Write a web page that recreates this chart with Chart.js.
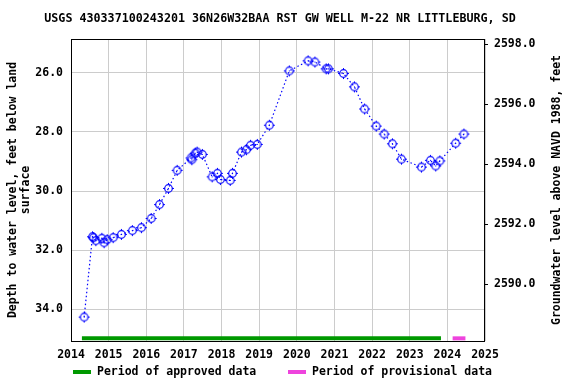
<!DOCTYPE html>
<html>
<head>
<meta charset="utf-8">
<script src="https://cdn.jsdelivr.net/npm/chart.js@4"></script>
<style>
  html, body { margin: 0; padding: 0; background: #fff; }
  #wrap { width: 576px; height: 384px; }
</style>
</head>
<body>
<div id="wrap"><canvas id="chart" width="576" height="384"></canvas></div>
<script>
// measurement dates (decimal years) and depth below land surface, feet
const years = [
  2014.35, 2014.57, 2014.60, 2014.66, 2014.82, 2014.88, 2014.96, 2015.12, 2015.34, 2015.63,
  2015.87, 2016.13, 2016.35, 2016.59, 2016.82, 2017.19, 2017.21, 2017.30, 2017.35, 2017.49,
  2017.75, 2017.89, 2017.97, 2018.23, 2018.29, 2018.53, 2018.66, 2018.77, 2018.95, 2019.27,
  2019.80, 2020.30, 2020.48, 2020.78, 2020.84, 2021.24, 2021.53, 2021.80, 2022.11, 2022.32,
  2022.54, 2022.78, 2023.31, 2023.55, 2023.69, 2023.80, 2024.22, 2024.44
];
const depths = [
  34.27, 31.55, 31.58, 31.68, 31.60, 31.75, 31.65, 31.58, 31.47, 31.34,
  31.24, 30.93, 30.46, 29.91, 29.30, 28.88, 28.94, 28.72, 28.68, 28.76,
  29.52, 29.40, 29.61, 29.64, 29.40, 28.68, 28.60, 28.45, 28.42, 27.77,
  25.93, 25.59, 25.63, 25.86, 25.86, 26.02, 26.47, 27.22, 27.80, 28.07,
  28.40, 28.92, 29.19, 28.96, 29.15, 28.98, 28.38, 28.07
];
const approvedPeriod = [2014.29, 2023.83];
const provisionalPeriod = [2024.14, 2024.48];
const periodDepth = 34.99;

const xTicks = [2014, 2015, 2016, 2017, 2018, 2019, 2020, 2021, 2022, 2023, 2024, 2025];
const depthTicks = [26, 28, 30, 32, 34];
const levelTicks = [2590, 2592, 2594, 2596, 2598];
const depthRange = [24.85, 35.08];
const levelRange = [2588.1, 2598.18];

const FONT = "'DejaVu Sans Mono', monospace";
const BLUE = "#0000ff";

// marker like the USGS one: circle, centre dot, little ticks
function makeMarker() {
  const c = document.createElement("canvas");
  c.width = 13; c.height = 13;
  const g = c.getContext("2d");
  g.strokeStyle = BLUE;
  g.lineWidth = 1.2;
  g.beginPath();
  g.arc(6.5, 6.5, 3.8, 0, Math.PI * 2);
  g.stroke();
  g.fillStyle = BLUE;
  g.fillRect(6, 6, 1, 1);
  g.fillRect(6, 1, 1, 2);
  g.fillRect(6, 10, 1, 2);
  g.fillRect(1, 6, 2, 1);
  g.fillRect(10, 6, 2, 1);
  return c;
}

const textPlugin = {
  id: "usgsText",
  afterDraw(chart) {
    const ctx = chart.ctx;
    const a = chart.chartArea;
    ctx.save();
    ctx.strokeStyle = "#000";
    ctx.lineWidth = 1;
    ctx.strokeRect(a.left + 0.5, a.top + 0.5, a.right - a.left - 1, a.bottom - a.top);

    ctx.fillStyle = "#000";
    ctx.textBaseline = "middle";
    ctx.textAlign = "center";
    ctx.font = "bold 11.7px " + FONT;
    ctx.fillText("USGS 430337100243201 36N26W32BAA RST GW WELL M-22 NR LITTLEBURG, SD", 280, 19);

    ctx.font = "bold 11.5px " + FONT;
    ctx.save();
    ctx.translate(13, 190);
    ctx.rotate(-Math.PI / 2);
    ctx.fillText("Depth to water level, feet below land", 0, 0);
    ctx.fillText("surface", 0, 13);
    ctx.restore();
    ctx.save();
    ctx.translate(557, 190);
    ctx.rotate(-Math.PI / 2);
    ctx.fillText("Groundwater level above NAVD 1988, feet", 0, 0);
    ctx.restore();

    // legend
    ctx.textAlign = "left";
    ctx.lineWidth = 4;
    ctx.strokeStyle = "#009900";
    ctx.beginPath(); ctx.moveTo(73, 372); ctx.lineTo(91, 372); ctx.stroke();
    ctx.fillText("Period of approved data", 97, 372);
    ctx.strokeStyle = "#ee44dd";
    ctx.beginPath(); ctx.moveTo(288, 372); ctx.lineTo(306, 372); ctx.stroke();
    ctx.fillText("Period of provisional data", 312, 372);
    ctx.restore();
  }
};

const tickFont = { family: FONT, size: 11.5, weight: "bold" };

new Chart(document.getElementById("chart"), {
  type: "line",
  data: {
    datasets: [
      {
        data: years.map((x, i) => ({ x: x, y: depths[i] })),
        borderColor: BLUE,
        borderWidth: 1.2,
        borderDash: [1.5, 2.5],
        pointStyle: makeMarker(),
        pointRadius: 4,
        tension: 0,
        yAxisID: "y"
      },
      {
        data: approvedPeriod.map(x => ({ x: x, y: periodDepth })),
        borderColor: "#009900",
        borderWidth: 4,
        borderCapStyle: "butt",
        pointRadius: 0,
        yAxisID: "y"
      },
      {
        data: provisionalPeriod.map(x => ({ x: x, y: periodDepth })),
        borderColor: "#ee44dd",
        borderWidth: 4,
        borderCapStyle: "butt",
        pointRadius: 0,
        yAxisID: "y"
      }
    ]
  },
  options: {
    responsive: false,
    animation: false,
    layout: { padding: { top: 39 } },
    plugins: { legend: { display: false }, tooltip: { enabled: false } },
    scales: {
      x: {
        type: "linear",
        min: 2014,
        max: 2025,
        afterBuildTicks: s => { s.ticks = xTicks.map(v => ({ value: v })); },
        afterFit: s => { s.height = 43; },
        ticks: { color: "#000", font: tickFont, padding: 7, maxRotation: 0, autoSkip: false,
                 callback: v => String(v) },
        grid: { color: "#cccccc", drawTicks: false },
        border: { display: false }
      },
      y: {
        position: "left",
        reverse: true,
        min: depthRange[0],
        max: depthRange[1],
        afterBuildTicks: s => { s.ticks = depthTicks.map(v => ({ value: v })); },
        afterFit: s => { s.width = 71; },
        ticks: { color: "#000", font: tickFont, padding: 8, callback: v => v.toFixed(1) },
        grid: { color: "#cccccc", drawTicks: false },
        border: { display: false }
      },
      y2: {
        position: "right",
        min: levelRange[0],
        max: levelRange[1],
        afterBuildTicks: s => { s.ticks = levelTicks.map(v => ({ value: v })); },
        afterFit: s => { s.width = 91; },
        ticks: { color: "#000", font: tickFont, padding: 6, callback: v => v.toFixed(1) },
        grid: { drawOnChartArea: false, drawTicks: true, tickLength: 3, color: "#000" },
        border: { display: false }
      }
    }
  },
  plugins: [textPlugin]
});
</script>
</body>
</html>
